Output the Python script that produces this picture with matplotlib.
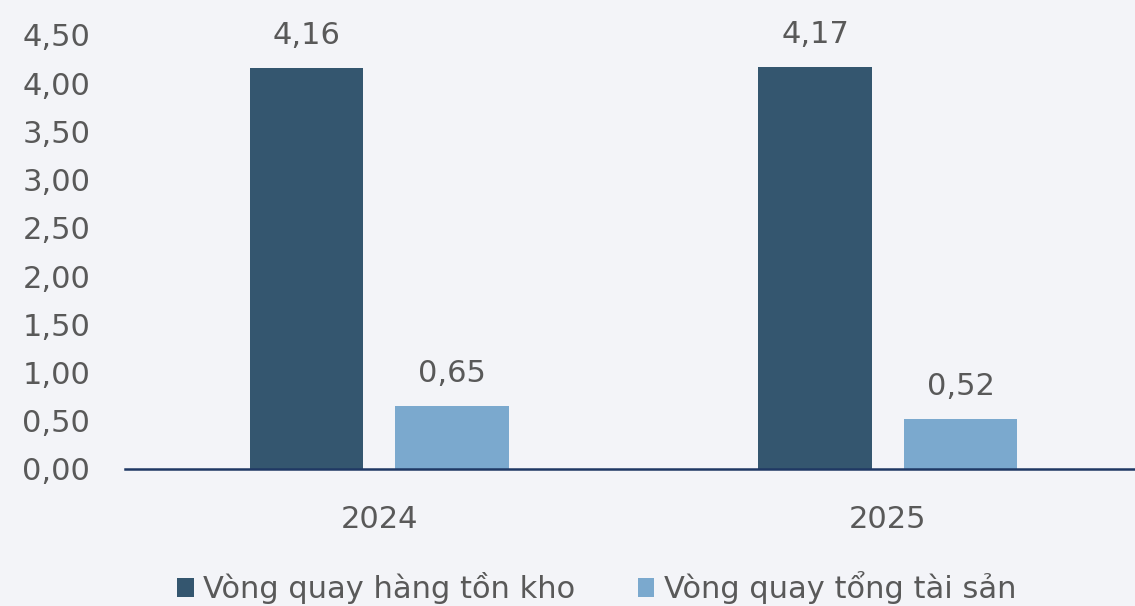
import matplotlib.pyplot as plt
import numpy as np

years = ['2024', '2025']
inventory_turnover = [4.16, 4.17]
asset_turnover = [0.65, 0.52]
series_names = ['Vòng quay hàng tồn kho', 'Vòng quay tổng tài sản']
yticks = [0, 0.5, 1.0, 1.5, 2.0, 2.5, 3.0, 3.5, 4.0, 4.5]

bg = '#F3F4F8'
dark = '#34566F'
light = '#7BA9CE'
txt = '#595959'

plt.rcParams['font.family'] = ['DejaVu Sans']
fs = 22

fig = plt.figure(figsize=(11.35, 6.06), dpi=100, facecolor=bg)
ax = fig.add_axes([125 / 1135, 1 - 469 / 606, 1017 / 1135, 434 / 606])
ax.set_facecolor(bg)

x = np.arange(len(years))
w = 0.224
off = 0.143
b1 = ax.bar(x - off, inventory_turnover, w, color=dark, label=series_names[0])
b2 = ax.bar(x + off, asset_turnover, w, color=light, label=series_names[1])

def fmt(v):
    return f'{v:.2f}'.replace('.', ',')

for bars, vals in ((b1, inventory_turnover), (b2, asset_turnover)):
    for r, v in zip(bars, vals):
        ax.annotate(fmt(v), (r.get_x() + r.get_width() / 2, v),
                    xytext=(0, 13), textcoords='offset points',
                    ha='center', va='bottom', fontsize=fs, color=txt)

ax.set_xlim(-0.5, 1.5)
ax.set_ylim(0, 4.5)
ax.set_yticks(yticks)
ax.set_yticklabels([fmt(t) for t in yticks])
ax.set_xticks(x)
ax.set_xticklabels(years)
ax.tick_params(axis='both', length=0, labelsize=fs, labelcolor=txt)
ax.tick_params(axis='y', pad=25)
ax.tick_params(axis='x', pad=26)
for s in ['top', 'right', 'left']:
    ax.spines[s].set_visible(False)
ax.spines['bottom'].set_color('#1F3864')
ax.spines['bottom'].set_linewidth(1.8)
ax.spines['bottom'].set_zorder(5)

leg = fig.legend(loc='center', bbox_to_anchor=(0.5256, 1 - 588 / 606), ncol=2,
                 frameon=False, fontsize=fs, handlelength=0.55, handleheight=0.55,
                 handletextpad=0.3, columnspacing=2.05, labelcolor=txt)

fig.savefig('out.png', dpi=100, facecolor=bg)
